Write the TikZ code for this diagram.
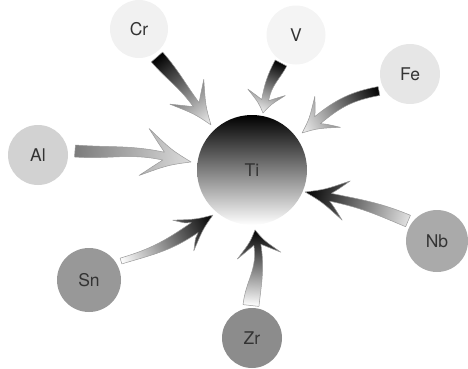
\documentclass[tikz,border=0pt]{standalone}
\usepackage{fontspec}
\setmainfont{TeX Gyre Heros}
\usetikzlibrary{calc}

\definecolor{labeltext}{HTML}{333333}
\definecolor{arrowedge}{HTML}{9A9A9A}
\definecolor{crfill}{HTML}{F1F1F1}
\definecolor{vfill}{HTML}{F4F4F4}
\definecolor{fefill}{HTML}{E6E6E6}
\definecolor{alfill}{HTML}{D2D2D2}
\definecolor{nbfill}{HTML}{AAAAAA}
\definecolor{snfill}{HTML}{989898}
\definecolor{zrfill}{HTML}{8C8C8C}
\definecolor{alshaft}{HTML}{7C7C7C}
\definecolor{alhead}{HTML}{DCDCDC}
\definecolor{lighthead}{HTML}{F0F0F0}
\definecolor{nbtail}{HTML}{E2E2E2}

% Parameters of a thick, bent arrow with a barbed head
\pgfkeys{/fatarrow/.is family, /fatarrow/.cd,
  in/.store in=\faIn, in=0,           % tail direction, relative to the chord
  out/.store in=\faOut, out=0,        % head direction, relative to the chord
  tail/.store in=\faTail, tail=6,     % half width at the tail
  neck/.store in=\faNeck, neck=4,     % half width where the shaft meets the head
  head/.store in=\faHead, head=30,    % head length (tip to barbs)
  barb/.store in=\faBarb, barb=20,    % half width of the head
  notch/.store in=\faNotch, notch=18, % tip to neck
  from/.store in=\faFrom, from=black, % colour at the tail
  to/.store in=\faTo, to=white}       % colour at the tip

% \fatarrow[options]{tail coordinate}{tip coordinate}
\newcommand\fatarrow[3][]{%
  \begingroup
  \pgfkeys{/fatarrow/.cd,#1}%
  \path (#2); \pgfgetlastxy{\faAx}{\faAy}%
  \path (#3); \pgfgetlastxy{\faBx}{\faBy}%
  \pgfmathsetmacro\faAng{atan2(\faBy-\faAy,\faBx-\faAx)}%
  \pgfmathsetmacro\faLen{veclen(\faBx-\faAx,\faBy-\faAy)}%
  \pgfmathsetmacro\faK{0.4*(\faLen-\faNotch)}%
  \pgfmathsetmacro\faBack{\faOut+180}%
  \pgfmathsetmacro\faLeft{\faOut+90}%
  \pgfmathsetmacro\faRight{\faOut-90}%
  \pgfmathsetmacro\faTLeft{\faIn+90}%
  \pgfmathsetmacro\faTRight{\faIn-90}%
  \pgfmathsetmacro\faBackLen{\faHead-\faNotch}%
  \begin{scope}[transform canvas={shift={(\faAx,\faAy)},rotate=\faAng}]
    \coordinate (fa-T) at (\faLen pt,0pt);
    \coordinate (fa-J) at ($(fa-T)+(\faBack:\faNotch pt)$);
    \coordinate (fa-H) at ($(fa-T)+(\faBack:\faHead pt)$);
    \coordinate (fa-BL) at ($(fa-H)+(\faLeft:\faBarb pt)$);
    \coordinate (fa-BR) at ($(fa-H)+(\faRight:\faBarb pt)$);
    \coordinate (fa-NL) at ($(fa-J)+(\faLeft:\faNeck pt)$);
    \coordinate (fa-NR) at ($(fa-J)+(\faRight:\faNeck pt)$);
    \coordinate (fa-TL) at (\faTLeft:\faTail pt);
    \coordinate (fa-TR) at (\faTRight:\faTail pt);
    \coordinate (fa-C1L) at ($(fa-TL)+(\faIn:\faK pt)$);
    \coordinate (fa-C1R) at ($(fa-TR)+(\faIn:\faK pt)$);
    \coordinate (fa-C2L) at ($(fa-NL)+(\faBack:\faK pt)$);
    \coordinate (fa-C2R) at ($(fa-NR)+(\faBack:\faK pt)$);
    % control points that hollow the edges of the head
    \coordinate (fa-PL) at ($(fa-T)+(\faBack:0.45*\faHead pt)+(\faLeft:0.32*\faBarb pt)$);
    \coordinate (fa-PR) at ($(fa-T)+(\faBack:0.45*\faHead pt)+(\faRight:0.32*\faBarb pt)$);
    \coordinate (fa-QL) at ($(fa-J)+(\faBack:0.35*\faBackLen pt)+(\faLeft:0.45*\faBarb pt)$);
    \coordinate (fa-QR) at ($(fa-J)+(\faBack:0.35*\faBackLen pt)+(\faRight:0.45*\faBarb pt)$);
    \shade[arrowbody, left color=\faFrom, right color=\faTo]
      (fa-TR) .. controls (fa-C1R) and (fa-C2R) .. (fa-NR)
      .. controls (fa-QR) .. (fa-BR)
      .. controls (fa-PR) .. (fa-T)
      .. controls (fa-PL) .. (fa-BL)
      .. controls (fa-QL) .. (fa-NL)
      .. controls (fa-C2L) and (fa-C1L) .. (fa-TL) -- cycle;
  \end{scope}
  \endgroup}

\begin{document}
\begin{tikzpicture}[x=1pt, y=1pt,
  element/.style={circle, inner sep=0pt, minimum size=60pt, text=labeltext,
    font=\fontsize{17.5}{18}\selectfont},
  arrowbody/.style={draw=arrowedge, line width=0.5pt, line join=round}]
\useasboundingbox (0,0) rectangle (468,368);

% the central element
\node[element, minimum size=110pt, top color=black, bottom color=white] (Ti) at (252,198) {Ti};

% the alloying elements
\node[element, fill=crfill, minimum size=58pt] (Cr) at (139,339) {Cr};
\node[element, fill=vfill, minimum size=59pt] (V) at (296,333) {V};
\node[element, fill=fefill] (Fe) at (410,294) {Fe};
\node[element, fill=alfill] (Al) at (38,213) {Al};
\node[element, fill=nbfill, minimum size=62pt] (Nb) at (437,127) {Nb};
\node[element, fill=snfill, minimum size=64pt] (Sn) at (89,88) {Sn};
\node[element, fill=zrfill] (Zr) at (252,30) {Zr};

% where each arrow starts and ends
\coordinate (Cr-t) at ($(Cr.center)+(-57.3:33.3)$);
\coordinate (V-t)  at ($(V.center)+(-118.2:31.8)$);
\coordinate (Fe-t) at ($(Fe.center)+(-151.3:35.4)$);
\coordinate (Al-t) at ($(Al.center)+(6.2:37.2)$);
\coordinate (Nb-t) at ($(Nb.center)+(145.4:35.2)$);
\coordinate (Sn-t) at ($(Sn.center)+(30.7:37.2)$);
\coordinate (Zr-t) at ($(Zr.center)+(91.8:32.5)$);

\coordinate (Cr-h) at ($(Ti.center)+(132.3:60.9)$);
\coordinate (V-h)  at ($(Ti.center)+(79.1:58)$);
\coordinate (Fe-h) at ($(Ti.center)+(36.5:62.2)$);
\coordinate (Al-h) at ($(Ti.center)+(172.5:61.5)$);
\coordinate (Nb-h) at ($(Ti.center)+(-22.5:57.4)$);
\coordinate (Sn-h) at ($(Ti.center)+(-130.9:59.5)$);
\coordinate (Zr-h) at ($(Ti.center)+(-87.1:60)$);

% the arrows
\fatarrow[in=2.6, out=-2.4, tail=7.5, neck=3.5, head=41, barb=21, notch=25,
  from=black, to=lighthead]{Cr-t}{Cr-h}
\fatarrow[in=-8, out=10, tail=6.5, neck=3.5, head=21, barb=19, notch=13,
  from=black, to=lighthead]{V-t}{V-h}
\fatarrow[in=-18, out=11, tail=4.5, neck=4.5, head=33, barb=20, notch=20,
  from=black, to=lighthead]{Fe-t}{Fe-h}
\fatarrow[in=1, out=-6.6, tail=6, neck=4, head=48, barb=24, notch=28,
  from=alshaft, to=alhead]{Al-t}{Al-h}
\fatarrow[in=-7, out=4, tail=6.2, neck=4, head=42, barb=20, notch=26,
  from=nbtail, to=black]{Nb-t}{Nb-h}
\fatarrow[in=-10, out=8, tail=3, neck=6, head=36, barb=18.6, notch=22,
  from=white, to=black]{Sn-t}{Sn-h}
\fatarrow[in=-3.3, out=12, tail=8, neck=3.5, head=26, barb=22, notch=15,
  from=white, to=black]{Zr-t}{Zr-h}
\end{tikzpicture}
\end{document}
